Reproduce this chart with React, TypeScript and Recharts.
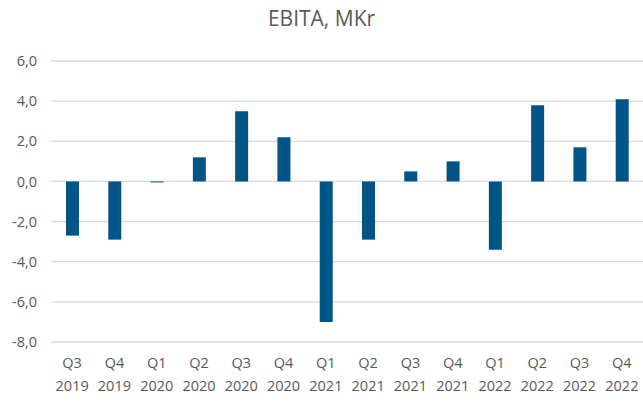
import { BarChart, Bar, XAxis, YAxis, CartesianGrid } from "recharts";

const quarters = ["Q3", "Q4", "Q1", "Q2", "Q3", "Q4", "Q1", "Q2", "Q3", "Q4", "Q1", "Q2", "Q3", "Q4"];
const years = ["2019", "2019", "2020", "2020", "2020", "2020", "2021", "2021", "2021", "2021", "2022", "2022", "2022", "2022"];
const ebita = [-2.7, -2.9, -0.05, 1.2, 3.5, 2.2, -7.0, -2.9, 0.5, 1.0, -3.4, 3.8, 1.7, 4.1];
const yTicks = [-8, -6, -4, -2, 0, 2, 4, 6];

const data = quarters.map((q, i) => ({ label: `${q} ${years[i]}`, idx: i, value: ebita[i] }));

const textColor = "#595959";
const font = "'Open Sans', sans-serif";

const fmt = (v: number) => v.toFixed(1).replace(".", ",");

const QuarterTick = (props: any) => {
  const { x, y, payload } = props;
  const i = payload.index;
  return (
    <g>
      <text x={x} y={y + 26} textAnchor="middle" fill={textColor} fontSize={14.5} fontFamily={font}>
        {quarters[i]}
      </text>
      <text x={x} y={y + 49} textAnchor="middle" fill={textColor} fontSize={14.5} fontFamily={font}>
        {years[i]}
      </text>
    </g>
  );
};

const App = () => {
  return (
    <div style={{ position: "absolute", left: 0, top: 0, width: 643, height: 405, background: "#fff" }}>
      <div
        style={{
          position: "absolute",
          top: 4,
          left: 0,
          width: 643,
          textAlign: "center",
          fontFamily: font,
          fontSize: 21,
          color: textColor,
        }}
      >
        EBITA, MKr
      </div>
      <BarChart
        width={643}
        height={405}
        data={data}
        margin={{ top: 61, right: 0, bottom: 0, left: 0 }}
        barCategoryGap={0}
      >
        <CartesianGrid vertical={false} stroke="#d9d9d9" strokeWidth={1.3} />
        <XAxis
          dataKey="label"
          height={63}
          axisLine={false}
          tickLine={false}
          tickSize={0}
          tickMargin={0}
          interval={0}
          tick={<QuarterTick />}
        />
        <YAxis
          width={51}
          domain={[-8, 6]}
          ticks={yTicks}
          interval={0}
          axisLine={false}
          tickLine={false}
          tickSize={0}
          tickMargin={14}
          tickFormatter={fmt}
          tick={{ fill: textColor, fontSize: 14.5, fontFamily: font }}
        />
        <Bar dataKey="value" fill="#005487" barSize={13} isAnimationActive={false} />
      </BarChart>
    </div>
  );
};

export default App;
